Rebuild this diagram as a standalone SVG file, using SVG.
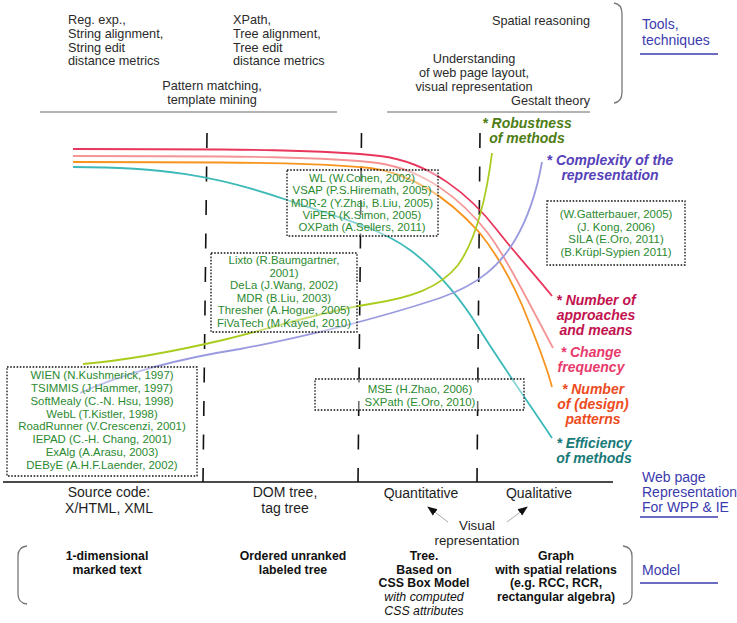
<svg xmlns="http://www.w3.org/2000/svg" width="737" height="623" viewBox="0 0 737 623">
<style>
text{font-family:"Liberation Sans",Arial,sans-serif}
.top{font-size:12.7px;fill:#2a2a2a}
.lab{font-size:14px;fill:#1e1e1e;text-anchor:middle}
.vis{font-size:13.3px;fill:#1e1e1e;text-anchor:middle}
.bb{font-size:12.3px;font-weight:bold;fill:#111;text-anchor:middle}
.it{font-size:12.3px;font-style:italic;fill:#111;text-anchor:middle}
.gr{font-size:11.4px;fill:#2b8a2f;text-anchor:middle}
.bl{font-size:14px;fill:#3b3bae}
.ri{font-size:14px;font-weight:bold;font-style:italic;text-anchor:middle}
.box{fill:#fff;fill-opacity:.4;stroke:#111;stroke-width:1.3;stroke-dasharray:1.6 1.6}
.dash{stroke:#111;stroke-width:1.6;stroke-dasharray:15 18.5;fill:none}
.cv{fill:none;stroke-width:1.8}
.gl{stroke:#9a9a9a;stroke-width:1.6;fill:none}
.br{stroke:#777;stroke-width:1.3;fill:none}
.ul{stroke:#3b3bae;stroke-width:1.3}
</style>
<defs>
<marker id="ah" viewBox="0 0 10 10" refX="9" refY="5" markerWidth="10" markerHeight="10" markerUnits="userSpaceOnUse" orient="auto"><path d="M0,1 L10,5 L0,9 z" fill="#111"/></marker>
</defs>
<rect width="737" height="623" fill="#fff"/>

<g id="tools-top">
<text class="top" x="68" y="24">Reg. exp.,</text>
<text class="top" x="68" y="38">String alignment,</text>
<text class="top" x="68" y="51.5">String edit</text>
<text class="top" x="68" y="65">distance metrics</text>
<text class="top" x="233" y="24">XPath,</text>
<text class="top" x="233" y="38">Tree alignment,</text>
<text class="top" x="233" y="51.5">Tree edit</text>
<text class="top" x="233" y="65">distance metrics</text>
<text class="top" x="212" y="90" text-anchor="middle">Pattern matching,</text>
<text class="top" x="212" y="104" text-anchor="middle">template mining</text>
<line class="gl" x1="40" y1="112" x2="337" y2="112"/>
<text class="top" x="590" y="25" text-anchor="end">Spatial reasoning</text>
<text class="top" x="474" y="63" text-anchor="middle">Understanding</text>
<text class="top" x="474" y="77" text-anchor="middle">of web page layout,</text>
<text class="top" x="474" y="90.5" text-anchor="middle">visual representation</text>
<text class="top" x="590" y="105" text-anchor="end">Gestalt theory</text>
<line class="gl" x1="387" y1="112" x2="590" y2="112"/>
<path class="br" d="M614,3 Q622,4 622,14 L622,92 Q622,102 614,103"/>
</g>
<g id="tools-label">
<text class="bl" x="642" y="29">Tools,</text>
<text class="bl" x="642" y="45">techniques</text>
<line class="ul" x1="640" y1="54" x2="718" y2="54"/>
</g>

<g id="dividers">
<line class="dash" x1="207" y1="133" x2="203" y2="482"/>
<line class="dash" x1="361.5" y1="133" x2="358" y2="482"/>
<line class="dash" x1="480" y1="133" x2="477" y2="482"/>
<line x1="3" y1="482" x2="613" y2="482" stroke="#111" stroke-width="1.6"/>
</g>

<g id="curves">
<path class="cv" stroke="#e8365c" d="M73,149 C250,149 330,150 380,156 C430,162 470,195 497,230 C515,253 535,275 552,296"/>
<path class="cv" stroke="#f49494" d="M73,156 C250,156 330,157 378,163 C425,170 462,200 487,232 C505,255 530,305 553,348"/>
<path class="cv" stroke="#f7941d" d="M73,162 C250,162 320,163 370,168 C415,174 450,200 479,232 C500,258 512,282 522,305 C533,332 545,360 552,387"/>
<path class="cv" stroke="#3dbab8" d="M73,167 C160,167 215,175 287,200 C340,218 380,228 410,250 C440,272 465,305 480,330 C500,362 530,405 552,438"/>
<path class="cv" stroke="#a9cc1e" d="M83,364 C130,360 180,350 223,340 C280,326 320,312 370,304 C410,298 440,288 458,265 C476,240 486,200 492,153"/>
<path class="cv" stroke="#9a9ae0" d="M80,393 C120,375 170,360 240,349 C300,338 380,318 440,298 C480,284 500,265 515,240 C528,218 537,190 542,162"/>
</g>

<g id="box-wl">
<rect class="box" x="287" y="170" width="151" height="66"/>
<text class="gr" x="362" y="182">WL (W.Cohen, 2002)</text>
<text class="gr" x="362" y="194.3">VSAP (P.S.Hiremath, 2005)</text>
<text class="gr" x="362" y="206.6">MDR-2 (Y.Zhai, B.Liu, 2005)</text>
<text class="gr" x="362" y="218.9">ViPER (K.Simon, 2005)</text>
<text class="gr" x="362" y="231.2">OXPath (A.Sellers, 2011)</text>
</g>
<g id="box-lixto">
<rect class="box" x="211" y="253" width="146" height="79"/>
<text class="gr" x="284" y="264">Lixto (R.Baumgartner,</text>
<text class="gr" x="284" y="276.5">2001)</text>
<text class="gr" x="284" y="289">DeLa (J.Wang, 2002)</text>
<text class="gr" x="284" y="301.5">MDR (B.Liu, 2003)</text>
<text class="gr" x="284" y="314">Thresher (A.Hogue, 2005)</text>
<text class="gr" x="284" y="326.5">FiVaTech (M.Kayed, 2010)</text>
</g>
<g id="box-wien">
<rect class="box" x="7" y="367" width="190" height="109"/>
<text class="gr" x="102" y="379">WIEN (N.Kushmerick, 1997)</text>
<text class="gr" x="102" y="392">TSIMMIS (J.Hammer, 1997)</text>
<text class="gr" x="102" y="404.8">SoftMealy (C.-N. Hsu, 1998)</text>
<text class="gr" x="102" y="417.6">WebL (T.Kistler, 1998)</text>
<text class="gr" x="102" y="430.4">RoadRunner (V.Crescenzi, 2001)</text>
<text class="gr" x="102" y="443.2">IEPAD (C.-H. Chang, 2001)</text>
<text class="gr" x="102" y="456">ExAlg (A.Arasu, 2003)</text>
<text class="gr" x="102" y="468.8">DEByE (A.H.F.Laender, 2002)</text>
</g>
<g id="box-mse">
<rect class="box" x="315" y="379" width="209" height="31"/>
<text class="gr" x="420" y="393">MSE (H.Zhao, 2006)</text>
<text class="gr" x="420" y="405.5">SXPath (E.Oro, 2010)</text>
</g>
<g id="box-gatter">
<rect class="box" x="547" y="201" width="138" height="64"/>
<text class="gr" x="616" y="218">(W.Gatterbauer, 2005)</text>
<text class="gr" x="616" y="230.5">(J. Kong, 2006)</text>
<text class="gr" x="616" y="243">SILA (E.Oro, 2011)</text>
<text class="gr" x="616" y="255.5">(B.Krüpl-Sypien 2011)</text>
</g>

<g id="label-robustness">
<text class="ri" x="527" y="128" fill="#4e7d14">* Robustness</text>
<text class="ri" x="527" y="143" fill="#4e7d14">of methods</text>
</g>
<g id="label-complexity">
<text class="ri" x="610" y="165" fill="#5542b8">* Complexity of the</text>
<text class="ri" x="610" y="180" fill="#5542b8">representation</text>
</g>
<g id="label-approaches">
<text class="ri" x="596" y="305" fill="#c2134f">* Number of</text>
<text class="ri" x="596" y="320" fill="#c2134f">approaches</text>
<text class="ri" x="596" y="335" fill="#c2134f">and means</text>
</g>
<g id="label-change">
<text class="ri" x="591" y="357" fill="#e83a6c">* Change</text>
<text class="ri" x="591" y="372" fill="#e83a6c">frequency</text>
</g>
<g id="label-patterns">
<text class="ri" x="593" y="394" fill="#ec4c22">* Number</text>
<text class="ri" x="593" y="409" fill="#ec4c22">of (design)</text>
<text class="ri" x="593" y="424" fill="#ec4c22">patterns</text>
</g>
<g id="label-efficiency">
<text class="ri" x="594" y="448" fill="#177a78">* Efficiency</text>
<text class="ri" x="594" y="463" fill="#177a78">of methods</text>
</g>

<g id="repr-label">
<text class="bl" x="642" y="482">Web page</text>
<text class="bl" x="642" y="497">Representation</text>
<text class="bl" x="642" y="511.5">For WPP &amp; IE</text>
<line class="ul" x1="640" y1="517" x2="718" y2="517"/>
</g>

<g id="repr-source"><text class="lab" x="109" y="497">Source code:</text><text class="lab" x="109" y="513">X/HTML, XML</text></g>
<g id="repr-dom"><text class="lab" x="285" y="497">DOM tree,</text><text class="lab" x="285" y="513">tag tree</text></g>
<g id="repr-quant"><text class="lab" x="421" y="498">Quantitative</text></g>
<g id="repr-qual"><text class="lab" x="539" y="498">Qualitative</text></g>
<g id="repr-visual"><text class="vis" x="477" y="529.5">Visual</text><text class="vis" x="477" y="544.5">representation</text></g>

<g id="connectors">
<line x1="448" y1="522" x2="428" y2="507" stroke="#aaa" stroke-width="1" marker-end="url(#ah)"/>
<line x1="507" y1="522" x2="527" y2="507" stroke="#aaa" stroke-width="1" marker-end="url(#ah)"/>
</g>

<g id="model-1d"><text class="bb" x="107" y="560">1-dimensional</text><text class="bb" x="107" y="573.5">marked text</text></g>
<g id="model-tree"><text class="bb" x="293" y="560">Ordered unranked</text><text class="bb" x="293" y="573.5">labeled tree</text></g>
<g id="model-box">
<text class="bb" x="424" y="560">Tree.</text>
<text class="bb" x="424" y="573.5">Based on</text>
<text class="bb" x="424" y="587">CSS Box Model</text>
<text class="it" x="424" y="601">with computed</text>
<text class="it" x="424" y="614.5">CSS attributes</text>
</g>
<g id="model-graph">
<text class="bb" x="556" y="560">Graph</text>
<text class="bb" x="556" y="573.5">with spatial relations</text>
<text class="bb" x="556" y="587">(e.g. RCC, RCR,</text>
<text class="bb" x="556" y="601">rectangular algebra)</text>
</g>
<g id="model-brackets">
<path class="br" d="M27,546 Q18,547 18,556 L18,594 Q18,603 27,604"/>
<path class="br" d="M623,546 Q632,547 632,556 L632,594 Q632,603 623,604"/>
</g>
<g id="model-label">
<text class="bl" x="642" y="575">Model</text>
<line class="ul" x1="640" y1="583" x2="718" y2="583"/>
</g>
</svg>
